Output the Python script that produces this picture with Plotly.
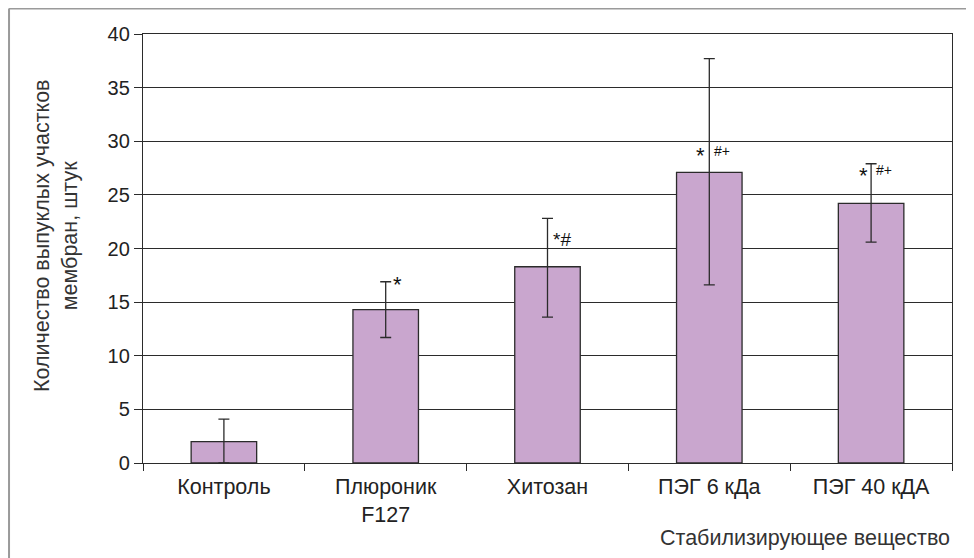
import plotly.graph_objects as go

categories = ["Контроль", "Плюроник<br>F127", "Хитозан", "ПЭГ 6 кДа", "ПЭГ 40 кДА"]
means = [2.0, 14.3, 18.3, 27.1, 24.2]
err_plus = [2.1, 2.6, 4.5, 10.6, 3.7]
err_minus = [2.0, 2.6, 4.7, 10.5, 3.6]
y_ticks = [0, 5, 10, 15, 20, 25, 30, 35, 40]

# significance marks: (category index, text, y value, pixel shift, font size)
marks = [
    (1, "*", 16.6, 12, 22),
    (2, "*#", 20.8, 14, 19),
    (3, "*", 28.7, -9, 22),
    (3, "#+", 29.1, 13, 14),
    (4, "*", 26.8, -8, 22),
    (4, "#+", 27.3, 13, 14),
]

FONT = "Liberation Sans, Arial, Helvetica, sans-serif"
INK = "#2b2b2b"
TXT = 21.5

fig = go.Figure()
fig.add_trace(go.Bar(
    x=categories, y=means, width=0.405,
    marker=dict(color="#C9A6CE", line=dict(color=INK, width=1.3)),
    error_y=dict(type="data", symmetric=False, array=err_plus, arrayminus=err_minus,
                 color=INK, thickness=1.3, width=5.5),
))

for idx, txt, yv, sh, fs in marks:
    fig.add_annotation(x=categories[idx], y=yv, text=txt, showarrow=False,
                       xshift=sh, font=dict(family=FONT, size=fs, color="#111"))

fig.add_annotation(xref="paper", yref="paper", x=1.0, y=-0.175, xanchor="right", yanchor="middle",
                   text="Стабилизирующее вещество", showarrow=False,
                   font=dict(family=FONT, size=TXT, color="#333"))

# y-axis title
fig.add_annotation(xref="paper", yref="paper", x=-0.1075, y=0.529, xanchor="center", yanchor="middle",
                   textangle=-90, text="Количество выпуклых участков<br>мембран, штук",
                   showarrow=False, font=dict(family=FONT, size=TXT, color="#333"))

# outer frame (top and left edges)
fig.add_shape(type="line", xref="paper", yref="paper", x0=-0.1656, x1=1.05, y0=1.0593, y1=1.0593,
              line=dict(color="#9a9a9a", width=2))
fig.add_shape(type="line", xref="paper", yref="paper", x0=-0.1656, x1=-0.1656, y0=1.0593, y1=-0.25,
              line=dict(color="#9a9a9a", width=2))

fig.update_layout(
    width=974, height=558,
    margin=dict(l=135, r=30, t=26, b=103),
    paper_bgcolor="white", plot_bgcolor="white",
    showlegend=False,
    font=dict(family=FONT, size=TXT, color="#222"),
    xaxis=dict(
        type="category", tickson="boundaries", ticks="outside", ticklen=7, tickcolor=INK,
        tickwidth=1.3, showline=True, linecolor=INK, linewidth=1.3, mirror=True,
        showgrid=False, ticklabelstandoff=4,
        tickfont=dict(family=FONT, size=TXT, color="#222"),
    ),
    yaxis=dict(
        range=[0, 40], tickvals=y_ticks, ticks="outside", ticklen=8, tickcolor=INK, tickwidth=1.3,
        showline=True, linecolor=INK, linewidth=1.3, mirror=True,
        showgrid=True, gridcolor=INK, gridwidth=1.3, zeroline=False,
        tickfont=dict(family=FONT, size=20, color="#222"),
    ),
)

fig.write_html("out.html")
